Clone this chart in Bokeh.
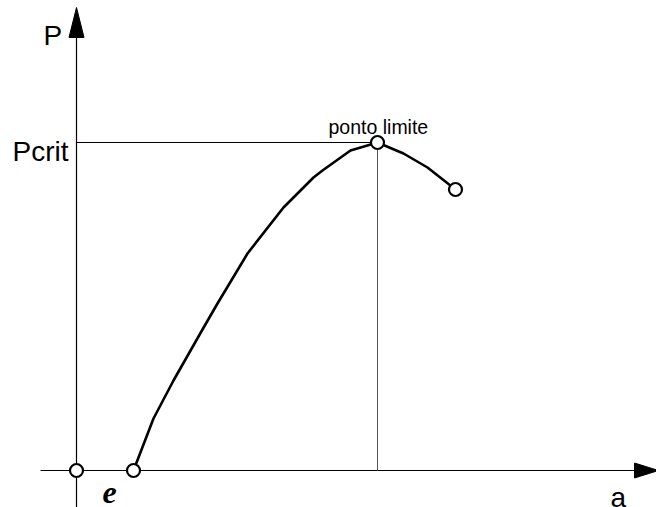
from bokeh.plotting import figure
from bokeh.models import Range1d
from bokeh.core.properties import value
from bokeh.embed import file_html
from bokeh.resources import INLINE

# Load-displacement curve (a, P) in drawing units, origin at axis crossing
curve_a = [57, 77, 97, 126, 141, 171, 207, 237, 246, 274, 301, 327, 351, 379]
curve_P = [0, 52, 90, 141, 167, 217, 263, 293, 300, 320, 328, 317, 303, 281]

# special points
origin = (0, 0)
e_val = 57
a_crit = 301
P_crit = 328
a_end = 379
P_end = 281

# axis extents
x_axis_start = -36
x_axis_end = 558
x_arrow_tip = 582
y_axis_start = -40
y_axis_end = 433
y_arrow_tip = 463
arrow_half = 7.5

p = figure(width=656, height=507, output_backend="svg", toolbar_location=None,
           x_range=Range1d(-76, 580), y_range=Range1d(-37, 470),
           x_axis_type=None, y_axis_type=None, min_border=0)
p.grid.visible = False
p.outline_line_color = None
p.background_fill_color = "white"

# axes
p.line([x_axis_start, x_axis_end], [0, 0], line_color="black", line_width=1.2)
p.line([0, 0], [y_axis_start, y_axis_end], line_color="black", line_width=1.2)
p.patch([x_axis_end, x_arrow_tip, x_axis_end], [arrow_half, 0, -arrow_half],
        fill_color="black", line_color="black")
p.patch([-arrow_half, 0, arrow_half], [y_axis_end, y_arrow_tip, y_axis_end],
        fill_color="black", line_color="black")

# Pcrit guide lines
p.line([0, a_crit], [P_crit, P_crit], line_color="black", line_width=1)
p.line([a_crit, a_crit], [0, P_crit], line_color="#555555", line_width=1)

# curve
p.line(curve_a, curve_P, line_color="black", line_width=2.6, line_join="round")

# open circles
p.scatter([origin[0], e_val, a_crit, a_end], [origin[1], 0, P_crit, P_end],
          size=13, fill_color="white", line_color="black", line_width=2.2)

# labels
p.text([-33], [435], text=["P"], text_font=value("Liberation Sans"),
       text_font_size="28px", text_baseline="alphabetic", text_align="left",
       text_color="black")
p.text([-64], [319], text=["Pcrit"], text_font=value("Liberation Sans"),
       text_font_size="28px", text_baseline="alphabetic", text_align="left",
       text_color="black")
p.text([252], [344], text=["ponto limite"], text_font=value("Liberation Sans"),
       text_font_size="19.5px", text_baseline="alphabetic", text_align="left",
       text_color="black")
p.text([534], [-27], text=["a"], text_font=value("Liberation Sans"),
       text_font_size="28px", text_baseline="alphabetic", text_align="left",
       text_color="black")
p.text([26], [-22], text=["e"], text_font=value("Liberation Serif"),
       text_font_size="32px", text_font_style="bold italic",
       text_baseline="alphabetic", text_align="left", text_color="black")

open("out.html", "w").write(file_html(p, INLINE))
